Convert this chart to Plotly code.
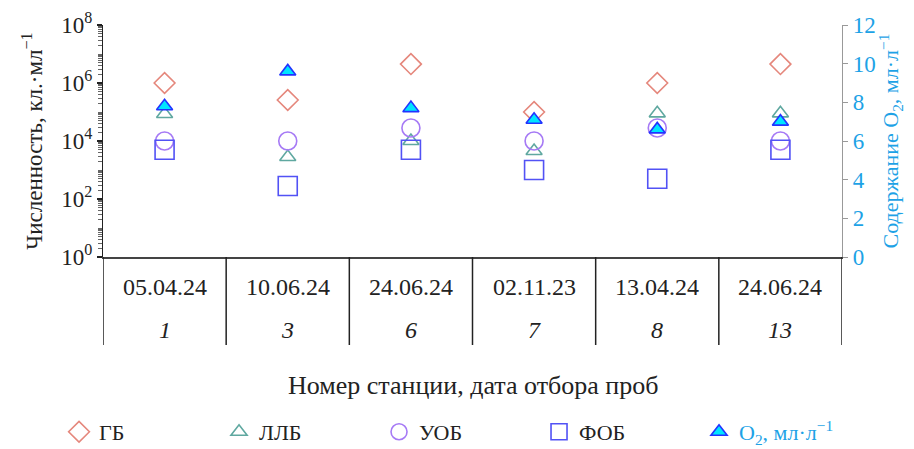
import plotly.graph_objects as go

# ---- data ----
stations = ["1", "3", "6", "7", "8", "13"]
dates = ["05.04.24", "10.06.24", "24.06.24", "02.11.23", "13.04.24", "24.06.24"]
gb = [1e6, 2.6e5, 4.5e6, 1e5, 1e6, 4.5e6]        # ГБ
llb = [8.5e4, 2.8e3, 1e4, 4.5e3, 9e4, 9e4]       # ЛЛБ
uob = [1e4, 1e4, 2.8e4, 1e4, 2.8e4, 1e4]         # УОБ
fob = [5e3, 2.8e2, 5e3, 1e3, 5e2, 5e3]           # ФОБ
o2 = [7.8, 9.6, 7.7, 7.1, 6.6, 7.0]              # O2, мл/л

left_ticks = [1, 1e2, 1e4, 1e6, 1e8]
left_ticktext = ["10<sup>0</sup>", "10<sup>2</sup>", "10<sup>4</sup>", "10<sup>6</sup>", "10<sup>8</sup>"]

FONT = "Times New Roman, Liberation Serif, DejaVu Serif, serif"
BLUE_TXT = "#1DA2E6"

xs = list(range(len(stations)))

fig = go.Figure()
fig.add_trace(go.Scatter(x=xs, y=gb, mode="markers", name="ГБ",
                         marker=dict(symbol="diamond-open", size=16, color="#E5877C", line=dict(width=1.6))))
fig.add_trace(go.Scatter(x=xs, y=llb, mode="markers", name="ЛЛБ",
                         marker=dict(symbol="triangle-up-open", size=14, color="#5FA8A0", line=dict(width=1.6))))
fig.add_trace(go.Scatter(x=xs, y=uob, mode="markers", name="УОБ",
                         marker=dict(symbol="circle-open", size=18, color="#A67AF5", line=dict(width=1.6))))
fig.add_trace(go.Scatter(x=xs, y=fob, mode="markers", name="ФОБ",
                         marker=dict(symbol="square-open", size=19, color="#5252F5", line=dict(width=1.6))))
fig.add_trace(go.Scatter(x=xs, y=o2, mode="markers", yaxis="y2",
                         name='<span style="color:%s">O<sub>2</sub>, мл·л<sup>−1</sup></span>' % BLUE_TXT,
                         marker=dict(symbol="triangle-up", size=14, color="#00E5FF",
                                     line=dict(width=1.6, color="#2233FF"))))

# minor ticks on log axis
minor_vals = []
for k in range(8):
    for m in range(2, 10):
        minor_vals.append(m * 10 ** k)
    if k % 2 == 1:
        minor_vals.append(10 ** k)

W, H = 898, 441   # page body adds an 8px margin
fig.update_layout(
    width=W, height=H,
    margin=dict(l=95, r=64, t=17, b=192, autoexpand=False),
    paper_bgcolor="white", plot_bgcolor="white",
    font=dict(family=FONT, size=20, color="#222"),
    showlegend=True,
    legend=dict(orientation="h", x=-0.0595, xanchor="left", y=-0.754, yanchor="middle",
                entrywidth=115, entrywidthmode="pixels",
                font=dict(family=FONT, size=22, color="#222"), itemwidth=30),
    xaxis=dict(range=[-0.5, 5.5], showticklabels=False, showgrid=False, zeroline=False,
               showline=True, linecolor="#444", linewidth=1.5, ticks="", fixedrange=True),
    yaxis=dict(type="log", range=[0, 8], tickmode="array", tickvals=left_ticks, ticktext=left_ticktext,
               showgrid=False, zeroline=False, showline=True, linecolor="#222", linewidth=1.2,
               ticks="outside", ticklen=5, tickcolor="#222", tickwidth=2,
               minor=dict(tickmode="array", tickvals=minor_vals, ticks="outside", ticklen=4,
                          tickcolor="#666", tickwidth=1, showgrid=False),
               tickfont=dict(family=FONT, size=23, color="#222"),
               title=dict(text="Численность, кл.·мл<sup>−1</sup>", standoff=12,
                          font=dict(family=FONT, size=23, color="#222"))),
    yaxis2=dict(overlaying="y", side="right", range=[0, 12], dtick=2, showgrid=False, zeroline=False,
                showline=True, linecolor="#999", linewidth=1.2, ticks="outside", ticklen=5,
                tickcolor="#999", tickfont=dict(family=FONT, size=23, color=BLUE_TXT),
                title=dict(text="Содержание O<sub>2</sub>, мл·л<sup>−1</sup>", standoff=3,
                           font=dict(family=FONT, size=22, color=BLUE_TXT))),
)

# table lines under plot
plot_h = 232
bottom_y = -(345 - 257) / plot_h
for b in range(len(stations) + 1):
    fig.add_shape(type="line", xref="x", yref="paper", x0=b - 0.5, x1=b - 0.5, y0=0, y1=bottom_y,
                  line=dict(color="#222", width=1.5))

for i, (d, s) in enumerate(zip(dates, stations)):
    fig.add_annotation(x=i, xref="x", yref="paper", y=-(287 - 257) / plot_h, text=d, showarrow=False,
                       font=dict(family=FONT, size=24, color="#222"), yanchor="middle")
    fig.add_annotation(x=i, xref="x", yref="paper", y=-(330 - 257) / plot_h, text="<i>%s</i>" % s,
                       showarrow=False, font=dict(family=FONT, size=24, color="#222"), yanchor="middle")

fig.add_annotation(x=0.5, xref="paper", yref="paper", y=-(385 - 257) / plot_h,
                   text="Номер станции, дата отбора проб", showarrow=False, yanchor="middle",
                   font=dict(family=FONT, size=26, color="#222"))

fig.write_html("out.html")
